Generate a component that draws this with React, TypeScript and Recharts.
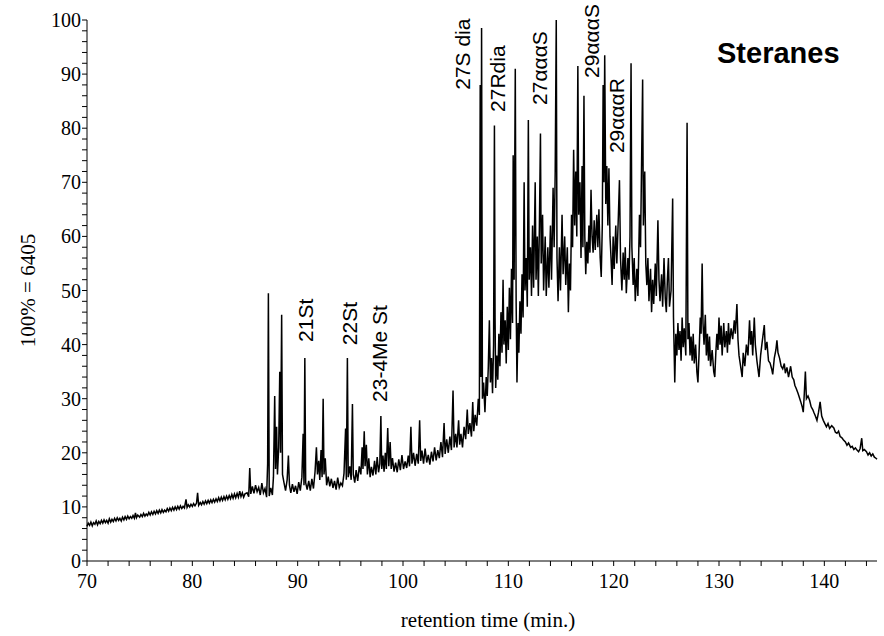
import React from "react";
import {
  LineChart,
  Line,
  XAxis,
  YAxis,
  ReferenceDot,
} from "recharts";

// retention time (min.), relative intensity (%)
const trace70to85: [number, number][] = [
  [70.0, 6.4], [70.12, 7.0], [70.25, 6.6], [70.37, 7.2], [70.5, 6.5], [70.62, 7.1],
  [70.75, 6.8], [70.87, 7.4], [71.0, 6.7], [71.12, 7.3], [71.25, 6.9], [71.37, 7.5],
  [71.5, 7.0], [71.62, 7.6], [71.75, 7.1], [71.87, 7.5], [72.0, 7.0], [72.12, 7.8],
  [72.25, 7.2], [72.37, 7.7], [72.5, 7.3], [72.62, 7.9], [72.75, 7.4], [72.87, 8.0],
  [73.0, 7.5], [73.12, 7.9], [73.25, 7.4], [73.37, 8.1], [73.5, 7.6], [73.62, 8.2],
  [73.75, 7.7], [73.87, 8.3], [74.0, 7.8], [74.12, 8.2], [74.25, 7.9], [74.37, 8.4],
  [74.5, 7.9], [74.6, 8.9], [74.7, 8.0], [74.82, 8.5], [75.0, 8.1], [75.12, 8.6],
  [75.25, 8.2], [75.37, 8.8], [75.5, 8.3], [75.62, 8.7], [75.75, 8.4], [75.87, 9.0],
  [76.0, 8.5], [76.12, 9.1], [76.25, 8.6], [76.37, 9.2], [76.5, 8.7], [76.62, 9.3],
  [76.75, 8.8], [76.87, 9.4], [77.0, 8.9], [77.12, 9.5], [77.25, 9.0], [77.37, 9.4],
  [77.5, 9.1], [77.62, 9.7], [77.75, 9.2], [77.87, 9.8], [78.0, 9.3], [78.12, 9.9],
  [78.25, 9.4], [78.37, 10.0], [78.5, 9.5], [78.62, 10.1], [78.75, 9.6], [78.87, 10.2],
  [79.0, 9.7], [79.12, 10.1], [79.25, 9.8], [79.4, 11.4], [79.5, 9.9], [79.62, 10.4],
  [79.75, 10.0], [79.87, 10.5], [80.0, 10.1], [80.12, 10.6], [80.25, 10.2], [80.4, 10.7],
  [80.5, 12.6], [80.6, 10.3], [80.75, 10.8], [80.87, 10.4], [81.0, 11.0], [81.12, 10.5],
  [81.25, 11.1], [81.37, 10.6], [81.5, 11.2], [81.62, 10.7], [81.75, 11.3], [81.87, 10.8],
  [82.0, 11.4], [82.12, 10.9], [82.25, 11.5], [82.37, 11.0], [82.5, 11.7], [82.62, 11.1],
  [82.75, 11.8], [82.87, 11.2], [83.0, 11.9], [83.12, 11.3], [83.25, 12.0], [83.37, 11.4],
  [83.5, 12.1], [83.62, 11.5], [83.75, 12.3], [83.87, 11.6], [84.0, 12.4], [84.12, 11.7],
  [84.25, 12.5], [84.37, 11.8], [84.5, 12.9], [84.62, 11.9], [84.75, 12.6], [84.87, 11.8],
  [85.0, 12.4],
];

const trace85to108: [number, number][] = [
  [85.2, 12.6], [85.35, 11.9], [85.45, 17.2], [85.55, 12.4], [85.7, 13.8], [85.85, 12.5],
  [86.0, 14.0], [86.15, 12.8], [86.3, 13.6], [86.45, 12.2], [86.6, 14.4], [86.75, 12.6],
  [86.9, 13.4], [87.05, 11.8], [87.15, 18.0], [87.22, 49.5], [87.3, 12.0], [87.45, 13.5],
  [87.6, 12.2], [87.7, 15.5], [87.82, 30.5], [87.9, 17.0], [88.0, 24.8], [88.08, 16.0],
  [88.2, 21.0], [88.3, 35.0], [88.38, 20.0], [88.48, 45.5], [88.56, 16.0], [88.7, 14.5],
  [88.85, 13.0], [89.0, 15.0], [89.12, 19.5], [89.22, 14.0], [89.35, 12.6], [89.5, 14.2],
  [89.65, 12.8], [89.8, 13.9], [89.95, 12.4], [90.1, 14.6], [90.25, 13.0], [90.4, 15.5],
  [90.52, 23.5], [90.6, 14.0], [90.68, 37.5], [90.76, 14.5], [90.9, 13.2], [91.05, 14.8],
  [91.2, 13.0], [91.35, 15.2], [91.5, 13.4], [91.65, 16.5], [91.78, 21.0], [91.88, 16.0],
  [92.0, 18.5], [92.1, 15.0], [92.22, 20.5], [92.32, 15.5], [92.42, 30.0], [92.5, 16.0],
  [92.62, 19.0], [92.75, 14.0], [92.9, 15.6], [93.05, 13.8], [93.2, 15.2], [93.35, 13.5],
  [93.5, 14.8], [93.65, 13.2], [93.8, 15.4], [93.95, 13.6], [94.1, 14.4], [94.25, 13.9],
  [94.4, 16.2], [94.55, 24.5], [94.62, 15.0], [94.72, 37.5], [94.8, 15.5], [94.95, 17.5],
  [95.08, 15.0], [95.2, 29.0], [95.28, 16.0], [95.42, 14.5], [95.55, 16.8], [95.7, 14.8],
  [95.85, 17.5], [96.0, 16.0], [96.12, 21.0], [96.2, 17.0], [96.32, 24.0], [96.4, 17.5],
  [96.52, 21.5], [96.62, 16.0], [96.75, 19.0], [96.88, 15.5], [97.0, 17.4], [97.15, 15.8],
  [97.3, 18.5], [97.42, 16.0], [97.55, 19.2], [97.68, 16.4], [97.8, 18.0], [97.9, 26.8],
  [97.98, 17.0], [98.1, 19.5], [98.2, 16.5], [98.32, 20.0], [98.42, 17.0], [98.55, 24.6],
  [98.65, 17.5], [98.78, 22.0], [98.88, 17.0], [99.0, 19.0], [99.15, 16.5], [99.3, 18.2],
  [99.45, 16.4], [99.6, 18.8], [99.75, 16.8], [99.9, 19.6], [100.05, 17.0], [100.2, 18.4],
  [100.35, 17.2], [100.5, 19.5], [100.62, 17.5], [100.75, 24.8], [100.85, 18.0], [101.0, 20.0],
  [101.15, 17.6], [101.3, 19.8], [101.45, 18.0], [101.58, 26.0], [101.68, 18.5], [101.8, 20.4],
  [101.95, 18.0], [102.1, 20.8], [102.25, 18.2], [102.4, 19.6], [102.55, 17.8], [102.7, 20.2],
  [102.85, 18.4], [103.0, 21.0], [103.15, 18.6], [103.3, 20.5], [103.45, 19.0], [103.6, 22.0],
  [103.75, 19.2], [103.9, 25.5], [104.0, 19.8], [104.15, 22.5], [104.3, 20.0], [104.45, 23.0],
  [104.6, 20.5], [104.75, 31.5], [104.85, 21.0], [105.0, 23.5], [105.12, 21.0], [105.28, 26.0],
  [105.38, 21.5], [105.5, 23.5], [105.65, 21.0], [105.8, 24.8], [105.95, 22.5], [106.1, 28.0],
  [106.2, 23.5], [106.35, 25.5], [106.5, 23.0], [106.62, 29.4], [106.72, 24.0], [106.85, 27.0],
  [107.0, 25.0], [107.15, 30.0], [107.25, 27.0], [107.33, 88.0], [107.4, 34.0], [107.46, 98.5],
  [107.54, 30.0], [107.65, 33.0], [107.78, 27.5],
];

const trace108to126: [number, number][] = [
  [107.9, 34.0], [108.0, 30.5], [108.1, 36.0], [108.2, 44.5], [108.3, 33.0], [108.4, 37.5],
  [108.5, 31.0], [108.6, 40.0], [108.68, 80.5], [108.74, 45.0], [108.8, 32.0], [108.9, 38.0],
  [109.0, 33.5], [109.1, 42.0], [109.2, 36.0], [109.3, 46.0], [109.4, 38.5], [109.5, 52.0],
  [109.58, 40.0], [109.7, 44.5], [109.8, 36.5], [109.9, 47.0], [110.0, 39.0], [110.1, 50.5],
  [110.2, 41.0], [110.3, 54.0], [110.4, 44.0], [110.46, 75.0], [110.55, 52.0], [110.66, 91.0],
  [110.74, 48.0], [110.82, 33.0], [110.92, 44.0], [111.0, 38.5], [111.1, 48.0], [111.2, 42.0],
  [111.3, 53.0], [111.4, 45.0], [111.5, 70.0], [111.58, 50.0], [111.7, 56.0], [111.8, 47.0],
  [111.9, 81.5], [111.98, 52.0], [112.1, 58.0], [112.2, 49.0], [112.3, 62.0], [112.4, 50.5],
  [112.55, 70.0], [112.63, 52.0], [112.75, 60.0], [112.85, 49.0], [112.95, 62.0], [113.05, 79.0],
  [113.12, 55.0], [113.25, 64.0], [113.35, 50.0], [113.5, 60.0], [113.6, 49.0], [113.75, 58.0],
  [113.85, 50.5], [114.0, 62.0], [114.1, 52.0], [114.25, 69.0], [114.35, 58.0], [114.45, 72.0],
  [114.55, 100.0], [114.62, 56.0], [114.72, 48.0], [114.85, 58.0], [114.95, 50.0], [115.1, 64.0],
  [115.2, 53.0], [115.35, 60.0], [115.45, 51.0], [115.6, 58.0], [115.7, 46.0], [115.8, 55.0],
  [115.9, 50.0], [116.0, 64.0], [116.1, 58.0], [116.2, 76.0], [116.3, 62.0], [116.4, 72.0],
  [116.5, 60.0], [116.6, 91.5], [116.68, 64.0], [116.8, 70.0], [116.9, 56.0], [117.0, 73.0],
  [117.08, 58.0], [117.18, 86.0], [117.26, 60.0], [117.35, 53.0], [117.45, 59.0], [117.55, 55.0],
  [117.65, 62.0], [117.75, 57.0], [117.85, 68.6], [117.95, 60.0], [118.05, 57.0], [118.15, 63.0],
  [118.25, 57.5], [118.4, 64.0], [118.5, 58.0], [118.6, 65.0], [118.72, 56.0], [118.82, 52.5],
  [118.92, 62.0], [119.0, 88.0], [119.08, 70.0], [119.15, 93.5], [119.25, 66.0], [119.35, 73.0],
  [119.45, 62.0], [119.55, 72.6], [119.65, 60.0], [119.75, 56.0], [119.85, 51.0], [119.95, 60.0],
  [120.05, 54.0], [120.2, 62.0], [120.3, 55.0], [120.45, 64.0], [120.55, 70.4], [120.65, 56.0],
  [120.78, 50.0], [120.9, 57.0], [121.0, 52.0], [121.1, 58.0], [121.2, 49.5], [121.35, 56.0],
  [121.45, 52.0], [121.55, 60.0], [121.65, 92.0], [121.73, 58.0], [121.85, 51.0], [121.95, 56.0],
  [122.05, 48.0], [122.2, 54.0], [122.3, 49.0], [122.45, 64.0], [122.55, 58.0], [122.75, 89.0],
  [122.82, 62.0], [122.95, 72.0], [123.05, 55.0], [123.15, 51.0], [123.25, 56.0], [123.35, 48.0],
  [123.5, 54.0], [123.6, 46.0], [123.7, 52.0], [123.8, 47.5], [123.95, 55.0], [124.05, 49.0],
  [124.2, 63.0], [124.3, 52.0], [124.4, 48.0], [124.55, 53.0], [124.65, 47.0], [124.78, 56.0],
  [124.9, 48.5], [125.0, 46.0], [125.1, 52.0], [125.2, 56.0], [125.3, 47.0], [125.45, 50.0],
  [125.6, 67.0], [125.68, 45.0], [125.8, 33.0], [125.9, 42.0],
];

const trace126to145: [number, number][] = [
  [126.0, 38.0], [126.1, 44.0], [126.2, 39.0], [126.3, 42.5], [126.4, 37.0], [126.5, 45.0],
  [126.6, 39.5], [126.7, 43.0], [126.85, 38.0], [126.97, 81.0], [127.05, 41.0], [127.15, 44.0],
  [127.25, 38.0], [127.35, 41.5], [127.45, 37.0], [127.55, 42.0], [127.65, 36.5], [127.78, 40.0],
  [127.9, 35.0], [128.0, 33.0], [128.1, 38.0], [128.22, 45.0], [128.3, 42.0], [128.4, 55.0],
  [128.48, 44.0], [128.58, 40.0], [128.7, 45.5], [128.8, 38.0], [128.9, 42.0], [129.0, 37.0],
  [129.1, 41.5], [129.2, 36.0], [129.35, 39.0], [129.5, 35.0], [129.6, 34.0], [129.7, 38.5],
  [129.8, 42.0], [129.9, 39.0], [130.0, 45.0], [130.1, 40.0], [130.2, 43.5], [130.3, 38.0],
  [130.45, 44.0], [130.55, 39.5], [130.7, 42.5], [130.8, 38.5], [130.9, 44.0], [131.0, 40.0],
  [131.15, 43.0], [131.3, 41.0], [131.45, 44.5], [131.55, 42.0], [131.7, 47.5], [131.8, 41.0],
  [131.9, 38.0], [132.05, 36.0], [132.2, 34.0], [132.3, 38.5], [132.45, 36.0], [132.6, 40.0],
  [132.75, 38.0], [132.9, 44.5], [133.0, 40.0], [133.1, 42.5], [133.2, 38.0], [133.35, 45.0],
  [133.45, 40.0], [133.6, 37.0], [133.8, 34.0], [133.95, 38.0], [134.1, 40.5], [134.3, 43.6],
  [134.4, 39.0], [134.55, 40.5], [134.7, 37.0], [134.85, 36.6], [135.0, 35.5], [135.1, 34.5],
  [135.25, 37.5], [135.4, 39.0], [135.5, 40.8], [135.6, 38.5], [135.75, 37.5], [135.9, 36.0],
  [136.05, 35.5], [136.2, 36.5], [136.3, 34.7], [136.45, 35.8], [136.6, 34.0], [136.8, 36.0],
  [136.95, 34.0], [137.1, 33.5], [137.2, 32.5], [137.35, 31.8], [137.5, 31.0], [137.6, 30.4],
  [137.75, 29.5], [137.9, 28.5], [138.0, 27.5], [138.1, 31.0], [138.2, 35.0], [138.3, 30.0],
  [138.45, 30.5], [138.6, 29.7], [138.75, 28.5], [138.9, 28.0], [139.0, 27.5], [139.15, 26.8],
  [139.3, 26.0], [139.45, 27.5], [139.6, 29.4], [139.75, 26.8], [139.9, 26.0], [140.05, 25.4],
  [140.2, 24.8], [140.35, 25.4], [140.5, 24.5], [140.7, 25.0], [140.9, 24.6], [141.05, 23.8],
  [141.2, 23.6], [141.35, 24.0], [141.5, 23.0], [141.65, 22.8], [141.8, 22.4], [142.0, 22.0],
  [142.15, 21.4], [142.3, 21.8], [142.5, 21.0], [142.65, 21.2], [142.8, 20.6], [142.95, 20.9],
  [143.1, 20.5], [143.25, 20.2], [143.4, 20.8], [143.55, 22.7], [143.65, 20.4], [143.8, 20.6],
  [144.0, 20.2], [144.15, 19.6], [144.3, 20.0], [144.45, 19.4], [144.6, 19.8], [144.75, 19.2],
  [144.9, 19.0], [145.0, 18.8],
];

// peak labels: text, retention time, intensity where the text starts
const peakNames = ["21St", "22St", "23-4Me St", "27S dia", "27Rdia", "27αααS", "29αααS", "29αααR"];
const peakTimes = [90.7, 94.95, 97.8, 105.67, 109.0, 113.0, 117.9, 120.3];
const peakLabelY = [40.5, 39.9, 29.4, 87.1, 83.0, 84.3, 89.3, 75.4];

const xTicks = [
  70, 72, 74, 76, 78, 80, 82, 84, 86, 88, 90, 92, 94, 96, 98, 100, 102, 104, 106, 108,
  110, 112, 114, 116, 118, 120, 122, 124, 126, 128, 130, 132, 134, 136, 138, 140, 142, 144,
];
const xLabels = [70, 80, 90, 100, 110, 120, 130, 140];
const yTicks = [
  0, 2, 4, 6, 8, 10, 12, 14, 16, 18, 20, 22, 24, 26, 28, 30, 32, 34, 36, 38, 40, 42, 44, 46, 48, 50,
  52, 54, 56, 58, 60, 62, 64, 66, 68, 70, 72, 74, 76, 78, 80, 82, 84, 86, 88, 90, 92, 94, 96, 98, 100,
];
const yLabels = [0, 10, 20, 30, 40, 50, 60, 70, 80, 90, 100];

const data = [...trace70to85, ...trace85to108, ...trace108to126, ...trace126to145].map(
  ([t, v]) => ({ t, v })
);

const serif = "'Liberation Serif', 'Times New Roman', serif";
const sans = "'Liberation Sans', Arial, sans-serif";

function XTick({ x, y, payload }: any) {
  if (!xLabels.includes(payload.value)) return <g />;
  return (
    <text x={x} y={y + 20} textAnchor="middle" fontFamily={serif} fontSize={20} fill="#000">
      {payload.value}
    </text>
  );
}

function YTick({ x, y, payload }: any) {
  if (!yLabels.includes(payload.value)) return <g />;
  return (
    <text
      x={x + 1}
      y={y}
      textAnchor="end"
      dominantBaseline="central"
      fontFamily={serif}
      fontSize={20}
      fill="#000"
    >
      {payload.value}
    </text>
  );
}

function PeakLabel({ cx, cy, name }: any) {
  return (
    <text
      x={cx}
      y={cy}
      transform={`rotate(-90 ${cx} ${cy})`}
      textAnchor="start"
      dominantBaseline="central"
      fontFamily={sans}
      fontSize={21}
      fill="#000"
    >
      {name}
    </text>
  );
}

export default function App() {
  return (
    <div style={{ position: "relative", width: 884, height: 636, background: "#fff" }}>
      <style>{"body{margin:0}"}</style>

      <LineChart
        width={884}
        height={636}
        data={data}
        margin={{ top: 20, right: 7, bottom: 0, left: 0 }}
      >
        <XAxis
          dataKey="t"
          type="number"
          domain={[70, 145]}
          ticks={xTicks}
          interval={0}
          tick={<XTick />}
          tickSize={5}
          height={75}
          stroke="#000"
          label={{
            value: "retention time (min.)",
            position: "insideBottom",
            offset: 9,
            dx: 6,
            fontFamily: serif,
            fontSize: 21,
            fill: "#000",
          }}
        />

        <YAxis
          type="number"
          domain={[0, 100]}
          ticks={yTicks}
          interval={0}
          tick={<YTick />}
          tickSize={5}
          width={87}
          stroke="#000"
          label={{
            value: "100% = 6405",
            content: ({ viewBox }: any) => {
              const cy = viewBox.y + viewBox.height / 2;
              return (
                <text
                  x={28}
                  y={cy}
                  transform={`rotate(-90 28 ${cy})`}
                  textAnchor="middle"
                  dominantBaseline="central"
                  fontFamily={serif}
                  fontSize={21}
                  fill="#000"
                >
                  100% = 6405
                </text>
              );
            },
          }}
        />

        <Line
          type="linear"
          dataKey="v"
          stroke="#000"
          strokeWidth={1.5}
          dot={false}
          isAnimationActive={false}
        />

        {peakNames.map((name, i) => (
          <ReferenceDot
            key={name}
            x={peakTimes[i]}
            y={peakLabelY[i]}
            r={1}
            shape={(props: any) => <PeakLabel {...props} name={name} />}
          />
        ))}
      </LineChart>

      <div
        style={{
          position: "absolute",
          left: 717,
          top: 36,
          fontFamily: sans,
          fontWeight: "bold",
          fontSize: 29,
          lineHeight: "34px",
          color: "#000",
        }}
      >
        Steranes
      </div>
    </div>
  );
}
